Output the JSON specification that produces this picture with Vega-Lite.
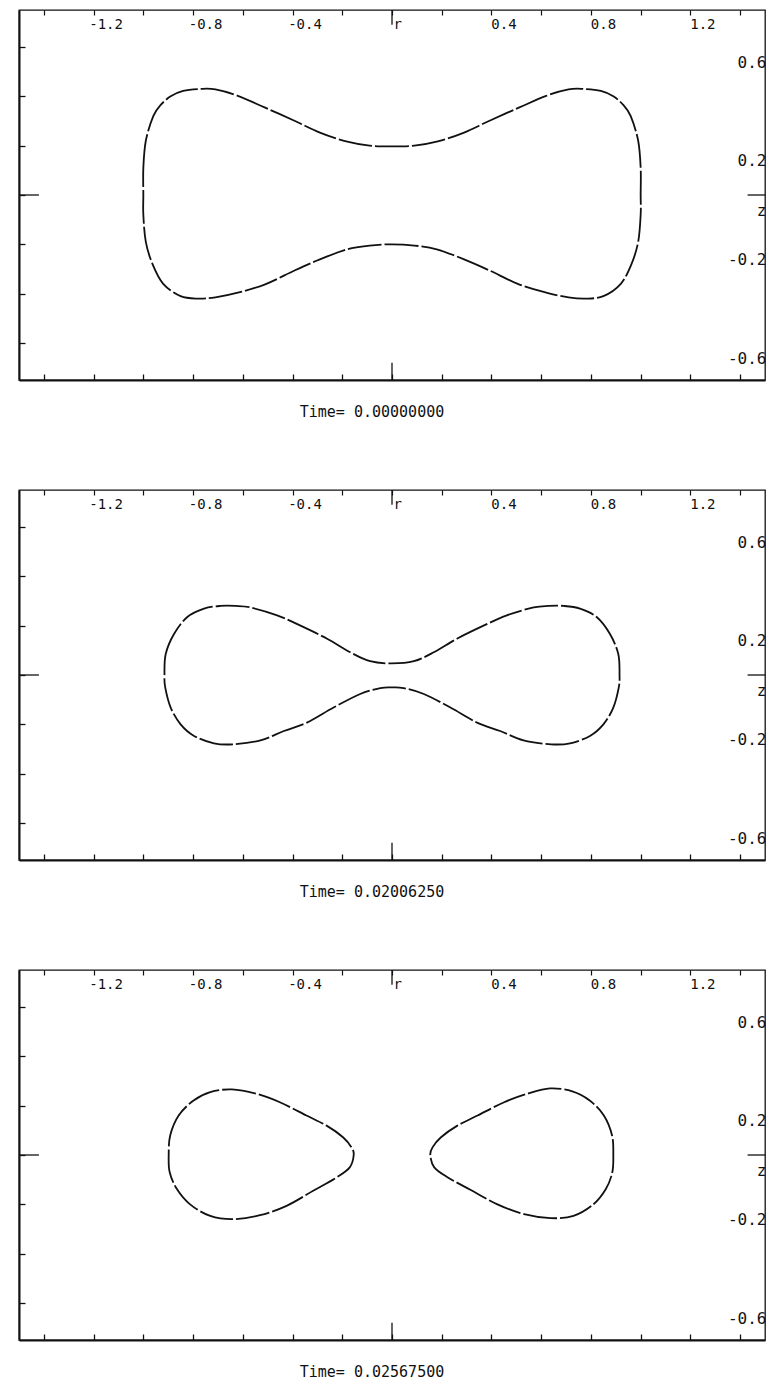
{
  "$schema": "https://vega.github.io/schema/vega-lite/v6.json",
  "padding": {"left": 17, "top": 8, "right": 0, "bottom": 0},
  "background": "white",
  "spacing": 67,
  "config": {"view": {"stroke": "#111", "strokeWidth": 1.3}},
  "datasets": {
    "curves": [
      {"panel":1,"loop":"A","i":0,"r":-1.00,"z":0.00},
      {"panel":1,"loop":"A","i":1,"r":-1.00,"z":0.11},
      {"panel":1,"loop":"A","i":2,"r":-0.99,"z":0.22},
      {"panel":1,"loop":"A","i":3,"r":-0.96,"z":0.32},
      {"panel":1,"loop":"A","i":4,"r":-0.93,"z":0.365},
      {"panel":1,"loop":"A","i":5,"r":-0.89,"z":0.40},
      {"panel":1,"loop":"A","i":6,"r":-0.84,"z":0.422},
      {"panel":1,"loop":"A","i":7,"r":-0.77,"z":0.43},
      {"panel":1,"loop":"A","i":8,"r":-0.71,"z":0.428},
      {"panel":1,"loop":"A","i":9,"r":-0.62,"z":0.402},
      {"panel":1,"loop":"A","i":10,"r":-0.51,"z":0.354},
      {"panel":1,"loop":"A","i":11,"r":-0.39,"z":0.30},
      {"panel":1,"loop":"A","i":12,"r":-0.29,"z":0.253},
      {"panel":1,"loop":"A","i":13,"r":-0.18,"z":0.216},
      {"panel":1,"loop":"A","i":14,"r":-0.09,"z":0.20},
      {"panel":1,"loop":"A","i":15,"r":0.00,"z":0.197},
      {"panel":1,"loop":"A","i":16,"r":0.09,"z":0.20},
      {"panel":1,"loop":"A","i":17,"r":0.18,"z":0.216},
      {"panel":1,"loop":"A","i":18,"r":0.29,"z":0.253},
      {"panel":1,"loop":"A","i":19,"r":0.39,"z":0.30},
      {"panel":1,"loop":"A","i":20,"r":0.51,"z":0.354},
      {"panel":1,"loop":"A","i":21,"r":0.62,"z":0.402},
      {"panel":1,"loop":"A","i":22,"r":0.71,"z":0.428},
      {"panel":1,"loop":"A","i":23,"r":0.77,"z":0.43},
      {"panel":1,"loop":"A","i":24,"r":0.84,"z":0.422},
      {"panel":1,"loop":"A","i":25,"r":0.89,"z":0.40},
      {"panel":1,"loop":"A","i":26,"r":0.93,"z":0.365},
      {"panel":1,"loop":"A","i":27,"r":0.96,"z":0.32},
      {"panel":1,"loop":"A","i":28,"r":0.99,"z":0.22},
      {"panel":1,"loop":"A","i":29,"r":1.00,"z":0.11},
      {"panel":1,"loop":"A","i":30,"r":1.00,"z":0.00},
      {"panel":1,"loop":"A","i":31,"r":1.00,"z":-0.08},
      {"panel":1,"loop":"A","i":32,"r":0.99,"z":-0.19},
      {"panel":1,"loop":"A","i":33,"r":0.963,"z":-0.28},
      {"panel":1,"loop":"A","i":34,"r":0.92,"z":-0.36},
      {"panel":1,"loop":"A","i":35,"r":0.85,"z":-0.41},
      {"panel":1,"loop":"A","i":36,"r":0.78,"z":-0.42},
      {"panel":1,"loop":"A","i":37,"r":0.71,"z":-0.415},
      {"panel":1,"loop":"A","i":38,"r":0.62,"z":-0.396},
      {"panel":1,"loop":"A","i":39,"r":0.51,"z":-0.362},
      {"panel":1,"loop":"A","i":40,"r":0.39,"z":-0.305},
      {"panel":1,"loop":"A","i":41,"r":0.29,"z":-0.261},
      {"panel":1,"loop":"A","i":42,"r":0.18,"z":-0.22},
      {"panel":1,"loop":"A","i":43,"r":0.09,"z":-0.205},
      {"panel":1,"loop":"A","i":44,"r":0.00,"z":-0.20},
      {"panel":1,"loop":"A","i":45,"r":-0.09,"z":-0.205},
      {"panel":1,"loop":"A","i":46,"r":-0.18,"z":-0.22},
      {"panel":1,"loop":"A","i":47,"r":-0.29,"z":-0.261},
      {"panel":1,"loop":"A","i":48,"r":-0.39,"z":-0.305},
      {"panel":1,"loop":"A","i":49,"r":-0.51,"z":-0.362},
      {"panel":1,"loop":"A","i":50,"r":-0.62,"z":-0.396},
      {"panel":1,"loop":"A","i":51,"r":-0.71,"z":-0.415},
      {"panel":1,"loop":"A","i":52,"r":-0.78,"z":-0.42},
      {"panel":1,"loop":"A","i":53,"r":-0.85,"z":-0.41},
      {"panel":1,"loop":"A","i":54,"r":-0.92,"z":-0.36},
      {"panel":1,"loop":"A","i":55,"r":-0.963,"z":-0.28},
      {"panel":1,"loop":"A","i":56,"r":-0.99,"z":-0.19},
      {"panel":1,"loop":"A","i":57,"r":-1.00,"z":-0.08},

      {"panel":2,"loop":"A","i":0,"r":-0.915,"z":0.0},
      {"panel":2,"loop":"A","i":1,"r":-0.91,"z":0.085},
      {"panel":2,"loop":"A","i":2,"r":-0.876,"z":0.167},
      {"panel":2,"loop":"A","i":3,"r":-0.823,"z":0.235},
      {"panel":2,"loop":"A","i":4,"r":-0.756,"z":0.269},
      {"panel":2,"loop":"A","i":5,"r":-0.69,"z":0.28},
      {"panel":2,"loop":"A","i":6,"r":-0.63,"z":0.28},
      {"panel":2,"loop":"A","i":7,"r":-0.57,"z":0.274},
      {"panel":2,"loop":"A","i":8,"r":-0.462,"z":0.242},
      {"panel":2,"loop":"A","i":9,"r":-0.368,"z":0.2},
      {"panel":2,"loop":"A","i":10,"r":-0.261,"z":0.147},
      {"panel":2,"loop":"A","i":11,"r":-0.168,"z":0.092},
      {"panel":2,"loop":"A","i":12,"r":-0.088,"z":0.056},
      {"panel":2,"loop":"A","i":13,"r":0.0,"z":0.047},
      {"panel":2,"loop":"A","i":14,"r":0.088,"z":0.056},
      {"panel":2,"loop":"A","i":15,"r":0.168,"z":0.092},
      {"panel":2,"loop":"A","i":16,"r":0.261,"z":0.147},
      {"panel":2,"loop":"A","i":17,"r":0.368,"z":0.2},
      {"panel":2,"loop":"A","i":18,"r":0.462,"z":0.242},
      {"panel":2,"loop":"A","i":19,"r":0.57,"z":0.274},
      {"panel":2,"loop":"A","i":20,"r":0.63,"z":0.28},
      {"panel":2,"loop":"A","i":21,"r":0.69,"z":0.28},
      {"panel":2,"loop":"A","i":22,"r":0.756,"z":0.269},
      {"panel":2,"loop":"A","i":23,"r":0.823,"z":0.235},
      {"panel":2,"loop":"A","i":24,"r":0.876,"z":0.167},
      {"panel":2,"loop":"A","i":25,"r":0.91,"z":0.085},
      {"panel":2,"loop":"A","i":26,"r":0.915,"z":0.0},
      {"panel":2,"loop":"A","i":27,"r":0.912,"z":-0.05},
      {"panel":2,"loop":"A","i":28,"r":0.89,"z":-0.132},
      {"panel":2,"loop":"A","i":29,"r":0.85,"z":-0.2},
      {"panel":2,"loop":"A","i":30,"r":0.796,"z":-0.247},
      {"panel":2,"loop":"A","i":31,"r":0.716,"z":-0.277},
      {"panel":2,"loop":"A","i":32,"r":0.64,"z":-0.281},
      {"panel":2,"loop":"A","i":33,"r":0.529,"z":-0.265},
      {"panel":2,"loop":"A","i":34,"r":0.435,"z":-0.227},
      {"panel":2,"loop":"A","i":35,"r":0.342,"z":-0.193},
      {"panel":2,"loop":"A","i":36,"r":0.235,"z":-0.132},
      {"panel":2,"loop":"A","i":37,"r":0.128,"z":-0.077},
      {"panel":2,"loop":"A","i":38,"r":0.047,"z":-0.053},
      {"panel":2,"loop":"A","i":39,"r":0.0,"z":-0.05},
      {"panel":2,"loop":"A","i":40,"r":-0.047,"z":-0.053},
      {"panel":2,"loop":"A","i":41,"r":-0.128,"z":-0.077},
      {"panel":2,"loop":"A","i":42,"r":-0.235,"z":-0.132},
      {"panel":2,"loop":"A","i":43,"r":-0.342,"z":-0.193},
      {"panel":2,"loop":"A","i":44,"r":-0.435,"z":-0.227},
      {"panel":2,"loop":"A","i":45,"r":-0.529,"z":-0.265},
      {"panel":2,"loop":"A","i":46,"r":-0.64,"z":-0.281},
      {"panel":2,"loop":"A","i":47,"r":-0.716,"z":-0.277},
      {"panel":2,"loop":"A","i":48,"r":-0.796,"z":-0.247},
      {"panel":2,"loop":"A","i":49,"r":-0.85,"z":-0.2},
      {"panel":2,"loop":"A","i":50,"r":-0.89,"z":-0.132},
      {"panel":2,"loop":"A","i":51,"r":-0.912,"z":-0.05},

      {"panel":3,"loop":"L","i":0,"r":-0.898,"z":0.0},
      {"panel":3,"loop":"L","i":1,"r":-0.892,"z":0.079},
      {"panel":3,"loop":"L","i":2,"r":-0.858,"z":0.16},
      {"panel":3,"loop":"L","i":3,"r":-0.798,"z":0.221},
      {"panel":3,"loop":"L","i":4,"r":-0.731,"z":0.255},
      {"panel":3,"loop":"L","i":5,"r":-0.644,"z":0.266},
      {"panel":3,"loop":"L","i":6,"r":-0.544,"z":0.248},
      {"panel":3,"loop":"L","i":7,"r":-0.451,"z":0.214},
      {"panel":3,"loop":"L","i":8,"r":-0.344,"z":0.16},
      {"panel":3,"loop":"L","i":9,"r":-0.263,"z":0.119},
      {"panel":3,"loop":"L","i":10,"r":-0.197,"z":0.072},
      {"panel":3,"loop":"L","i":11,"r":-0.163,"z":0.031},
      {"panel":3,"loop":"L","i":12,"r":-0.154,"z":0.0},
      {"panel":3,"loop":"L","i":13,"r":-0.17,"z":-0.05},
      {"panel":3,"loop":"L","i":14,"r":-0.223,"z":-0.091},
      {"panel":3,"loop":"L","i":15,"r":-0.317,"z":-0.145},
      {"panel":3,"loop":"L","i":16,"r":-0.424,"z":-0.206},
      {"panel":3,"loop":"L","i":17,"r":-0.531,"z":-0.244},
      {"panel":3,"loop":"L","i":18,"r":-0.638,"z":-0.26},
      {"panel":3,"loop":"L","i":19,"r":-0.731,"z":-0.247},
      {"panel":3,"loop":"L","i":20,"r":-0.812,"z":-0.2},
      {"panel":3,"loop":"L","i":21,"r":-0.865,"z":-0.138},
      {"panel":3,"loop":"L","i":22,"r":-0.894,"z":-0.07},

      {"panel":3,"loop":"R","i":0,"r":0.154,"z":0.0},
      {"panel":3,"loop":"R","i":1,"r":0.163,"z":0.031},
      {"panel":3,"loop":"R","i":2,"r":0.197,"z":0.072},
      {"panel":3,"loop":"R","i":3,"r":0.263,"z":0.119},
      {"panel":3,"loop":"R","i":4,"r":0.344,"z":0.16},
      {"panel":3,"loop":"R","i":5,"r":0.451,"z":0.214},
      {"panel":3,"loop":"R","i":6,"r":0.544,"z":0.248},
      {"panel":3,"loop":"R","i":7,"r":0.635,"z":0.27},
      {"panel":3,"loop":"R","i":8,"r":0.725,"z":0.258},
      {"panel":3,"loop":"R","i":9,"r":0.795,"z":0.221},
      {"panel":3,"loop":"R","i":10,"r":0.852,"z":0.16},
      {"panel":3,"loop":"R","i":11,"r":0.885,"z":0.079},
      {"panel":3,"loop":"R","i":12,"r":0.89,"z":0.0},
      {"panel":3,"loop":"R","i":13,"r":0.886,"z":-0.07},
      {"panel":3,"loop":"R","i":14,"r":0.86,"z":-0.138},
      {"panel":3,"loop":"R","i":15,"r":0.81,"z":-0.2},
      {"panel":3,"loop":"R","i":16,"r":0.73,"z":-0.247},
      {"panel":3,"loop":"R","i":17,"r":0.638,"z":-0.256},
      {"panel":3,"loop":"R","i":18,"r":0.531,"z":-0.24},
      {"panel":3,"loop":"R","i":19,"r":0.424,"z":-0.2},
      {"panel":3,"loop":"R","i":20,"r":0.317,"z":-0.142},
      {"panel":3,"loop":"R","i":21,"r":0.223,"z":-0.09},
      {"panel":3,"loop":"R","i":22,"r":0.17,"z":-0.05}
    ],
    "zt": [
      {"x": 0, "x2": 0, "y": -0.75, "y2": -0.68},
      {"x": 0, "x2": 0, "y": 0.75, "y2": 0.69},
      {"x": -1.5, "x2": -1.42, "y": 0, "y2": 0},
      {"x": 1.43, "x2": 1.5, "y": 0, "y2": 0}
    ]
  },
  "vconcat": [
    {
      "width": 746, "height": 370,
      "title": {"text": "Time= 0.00000000", "orient": "bottom", "anchor": "middle", "dx": -20, "offset": 24, "font": "DejaVu Sans Mono", "fontSize": 15, "fontWeight": "normal", "color": "#111"},
      "resolve": {"axis": {"x": "independent", "y": "independent"}},
      "layer": [
        {
          "data": {"name": "curves"},
          "transform": [{"filter": "datum.panel == 1"}],
          "mark": {"type": "line", "interpolate": "cardinal-closed", "color": "#111", "strokeWidth": 1.8, "strokeDash": [34, 3]},
          "encoding": {
            "x": {"field": "r", "type": "quantitative", "scale": {"domain": [-1.5, 1.5], "nice": false, "zero": false},
              "axis": {"orient": "top", "title": null, "grid": false, "domain": false, "values": [-1.4,-1.2,-1.0,-0.8,-0.6,-0.4,-0.2,0,0.2,0.4,0.6,0.8,1.0,1.2,1.4], "tickSize": -5, "tickColor": "#111", "tickWidth": 1.2, "labelExpr": "datum.value == 0 ? 'r' : (abs(round(datum.value*10)) % 4 == 0 ? '' + datum.value : '')", "labelPadding": -9, "labelBaseline": "middle", "labelAlign": {"condition": {"test": "datum.value == 0", "value": "left"}, "value": "center"}, "labelOffset": {"condition": {"test": "datum.value == 0", "value": 1}, "value": 12}, "labelFont": "DejaVu Sans Mono", "labelFontSize": 14, "labelColor": "#111", "labelFlush": false, "labelOverlap": false}},
            "y": {"field": "z", "type": "quantitative", "scale": {"domain": [-0.75, 0.75], "nice": false, "zero": false},
              "axis": {"orient": "right", "title": null, "grid": false, "domain": false, "ticks": false, "values": [-0.6,-0.2,0,0.2,0.6], "labelExpr": "datum.value == 0 ? 'z' : '' + datum.value", "labelAlign": "right", "labelPadding": 1, "labelBaseline": "middle", "labelOffset": 15, "labelFont": "DejaVu Sans Mono", "labelFontSize": 16, "labelColor": "#111", "labelFlush": false, "labelOverlap": false}},
            "detail": {"field": "loop"},
            "order": {"field": "i", "type": "quantitative"}
          }
        },
        {
          "data": {"name": "zt"},
          "mark": {"type": "rule", "color": "#111", "strokeWidth": 1.3},
          "encoding": {
            "x": {"field": "x", "type": "quantitative", "scale": {"domain": [-1.5, 1.5], "nice": false, "zero": false},
              "axis": {"orient": "bottom", "title": null, "grid": false, "labels": false, "domain": true, "domainColor": "#111", "domainWidth": 2, "values": [-1.4,-1.2,-1.0,-0.8,-0.6,-0.4,-0.2,0,0.2,0.4,0.6,0.8,1.0,1.2,1.4], "tickSize": -6, "tickColor": "#111", "tickWidth": 1.3}},
            "x2": {"field": "x2"},
            "y": {"field": "y", "type": "quantitative", "scale": {"domain": [-0.75, 0.75], "nice": false, "zero": false},
              "axis": {"orient": "left", "title": null, "grid": false, "labels": false, "domain": true, "domainColor": "#111", "domainWidth": 2, "values": [-0.6,-0.4,-0.2,0,0.2,0.4,0.6], "tickSize": -6, "tickColor": "#111", "tickWidth": 1.3}},
            "y2": {"field": "y2"}
          }
        }
      ]
    },
    {
      "width": 746, "height": 370,
      "title": {"text": "Time= 0.02006250", "orient": "bottom", "anchor": "middle", "dx": -20, "offset": 24, "font": "DejaVu Sans Mono", "fontSize": 15, "fontWeight": "normal", "color": "#111"},
      "resolve": {"axis": {"x": "independent", "y": "independent"}},
      "layer": [
        {
          "data": {"name": "curves"},
          "transform": [{"filter": "datum.panel == 2"}],
          "mark": {"type": "line", "interpolate": "cardinal-closed", "color": "#111", "strokeWidth": 1.8, "strokeDash": [34, 3]},
          "encoding": {
            "x": {"field": "r", "type": "quantitative", "scale": {"domain": [-1.5, 1.5], "nice": false, "zero": false},
              "axis": {"orient": "top", "title": null, "grid": false, "domain": false, "values": [-1.4,-1.2,-1.0,-0.8,-0.6,-0.4,-0.2,0,0.2,0.4,0.6,0.8,1.0,1.2,1.4], "tickSize": -5, "tickColor": "#111", "tickWidth": 1.2, "labelExpr": "datum.value == 0 ? 'r' : (abs(round(datum.value*10)) % 4 == 0 ? '' + datum.value : '')", "labelPadding": -9, "labelBaseline": "middle", "labelAlign": {"condition": {"test": "datum.value == 0", "value": "left"}, "value": "center"}, "labelOffset": {"condition": {"test": "datum.value == 0", "value": 1}, "value": 12}, "labelFont": "DejaVu Sans Mono", "labelFontSize": 14, "labelColor": "#111", "labelFlush": false, "labelOverlap": false}},
            "y": {"field": "z", "type": "quantitative", "scale": {"domain": [-0.75, 0.75], "nice": false, "zero": false},
              "axis": {"orient": "right", "title": null, "grid": false, "domain": false, "ticks": false, "values": [-0.6,-0.2,0,0.2,0.6], "labelExpr": "datum.value == 0 ? 'z' : '' + datum.value", "labelAlign": "right", "labelPadding": 1, "labelBaseline": "middle", "labelOffset": 15, "labelFont": "DejaVu Sans Mono", "labelFontSize": 16, "labelColor": "#111", "labelFlush": false, "labelOverlap": false}},
            "detail": {"field": "loop"},
            "order": {"field": "i", "type": "quantitative"}
          }
        },
        {
          "data": {"name": "zt"},
          "mark": {"type": "rule", "color": "#111", "strokeWidth": 1.3},
          "encoding": {
            "x": {"field": "x", "type": "quantitative", "scale": {"domain": [-1.5, 1.5], "nice": false, "zero": false},
              "axis": {"orient": "bottom", "title": null, "grid": false, "labels": false, "domain": true, "domainColor": "#111", "domainWidth": 2, "values": [-1.4,-1.2,-1.0,-0.8,-0.6,-0.4,-0.2,0,0.2,0.4,0.6,0.8,1.0,1.2,1.4], "tickSize": -6, "tickColor": "#111", "tickWidth": 1.3}},
            "x2": {"field": "x2"},
            "y": {"field": "y", "type": "quantitative", "scale": {"domain": [-0.75, 0.75], "nice": false, "zero": false},
              "axis": {"orient": "left", "title": null, "grid": false, "labels": false, "domain": true, "domainColor": "#111", "domainWidth": 2, "values": [-0.6,-0.4,-0.2,0,0.2,0.4,0.6], "tickSize": -6, "tickColor": "#111", "tickWidth": 1.3}},
            "y2": {"field": "y2"}
          }
        }
      ]
    },
    {
      "width": 746, "height": 370,
      "title": {"text": "Time= 0.02567500", "orient": "bottom", "anchor": "middle", "dx": -20, "offset": 24, "font": "DejaVu Sans Mono", "fontSize": 15, "fontWeight": "normal", "color": "#111"},
      "resolve": {"axis": {"x": "independent", "y": "independent"}},
      "layer": [
        {
          "data": {"name": "curves"},
          "transform": [{"filter": "datum.panel == 3"}],
          "mark": {"type": "line", "interpolate": "cardinal-closed", "color": "#111", "strokeWidth": 1.8, "strokeDash": [34, 3]},
          "encoding": {
            "x": {"field": "r", "type": "quantitative", "scale": {"domain": [-1.5, 1.5], "nice": false, "zero": false},
              "axis": {"orient": "top", "title": null, "grid": false, "domain": false, "values": [-1.4,-1.2,-1.0,-0.8,-0.6,-0.4,-0.2,0,0.2,0.4,0.6,0.8,1.0,1.2,1.4], "tickSize": -5, "tickColor": "#111", "tickWidth": 1.2, "labelExpr": "datum.value == 0 ? 'r' : (abs(round(datum.value*10)) % 4 == 0 ? '' + datum.value : '')", "labelPadding": -9, "labelBaseline": "middle", "labelAlign": {"condition": {"test": "datum.value == 0", "value": "left"}, "value": "center"}, "labelOffset": {"condition": {"test": "datum.value == 0", "value": 1}, "value": 12}, "labelFont": "DejaVu Sans Mono", "labelFontSize": 14, "labelColor": "#111", "labelFlush": false, "labelOverlap": false}},
            "y": {"field": "z", "type": "quantitative", "scale": {"domain": [-0.75, 0.75], "nice": false, "zero": false},
              "axis": {"orient": "right", "title": null, "grid": false, "domain": false, "ticks": false, "values": [-0.6,-0.2,0,0.2,0.6], "labelExpr": "datum.value == 0 ? 'z' : '' + datum.value", "labelAlign": "right", "labelPadding": 1, "labelBaseline": "middle", "labelOffset": 15, "labelFont": "DejaVu Sans Mono", "labelFontSize": 16, "labelColor": "#111", "labelFlush": false, "labelOverlap": false}},
            "detail": {"field": "loop"},
            "order": {"field": "i", "type": "quantitative"}
          }
        },
        {
          "data": {"name": "zt"},
          "mark": {"type": "rule", "color": "#111", "strokeWidth": 1.3},
          "encoding": {
            "x": {"field": "x", "type": "quantitative", "scale": {"domain": [-1.5, 1.5], "nice": false, "zero": false},
              "axis": {"orient": "bottom", "title": null, "grid": false, "labels": false, "domain": true, "domainColor": "#111", "domainWidth": 2, "values": [-1.4,-1.2,-1.0,-0.8,-0.6,-0.4,-0.2,0,0.2,0.4,0.6,0.8,1.0,1.2,1.4], "tickSize": -6, "tickColor": "#111", "tickWidth": 1.3}},
            "x2": {"field": "x2"},
            "y": {"field": "y", "type": "quantitative", "scale": {"domain": [-0.75, 0.75], "nice": false, "zero": false},
              "axis": {"orient": "left", "title": null, "grid": false, "labels": false, "domain": true, "domainColor": "#111", "domainWidth": 2, "values": [-0.6,-0.4,-0.2,0,0.2,0.4,0.6], "tickSize": -6, "tickColor": "#111", "tickWidth": 1.3}},
            "y2": {"field": "y2"}
          }
        }
      ]
    }
  ]
}
